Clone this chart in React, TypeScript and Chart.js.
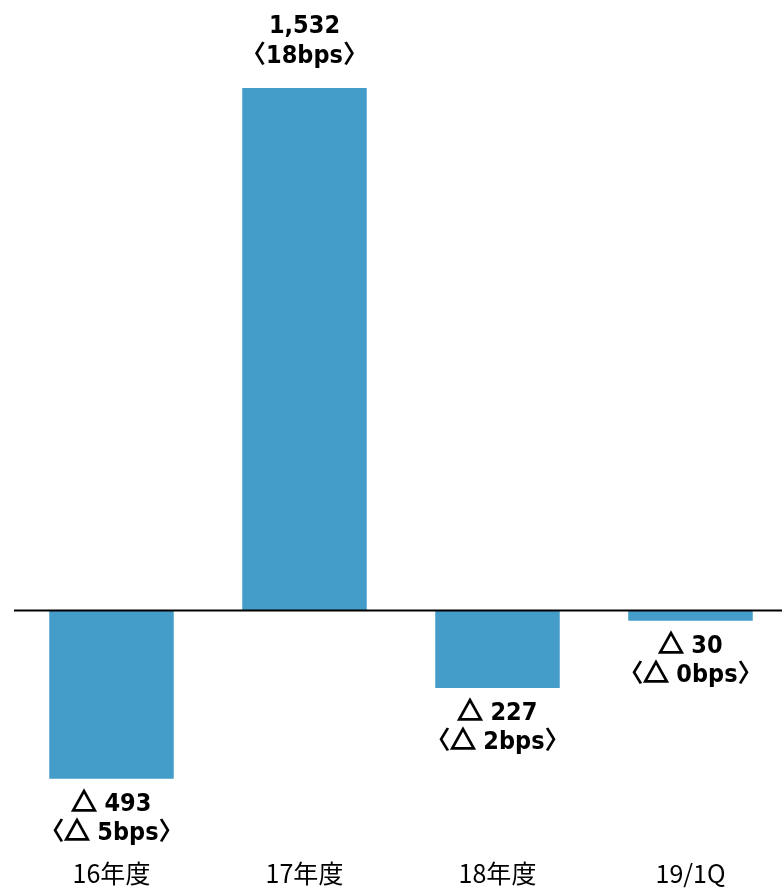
import React, { useEffect, useRef } from "react";
import { Chart, registerables } from "chart.js";

Chart.register(...registerables);

// 与信関係費用（億円）と総貸出に対する比率（bps）
const categories = ["16年度", "17年度", "18年度", "19/1Q"];
const amounts = [-493, 1532, -227, -30];
const bps = [-5, 18, -2, 0];

const BAR_COLOR = "#439DC8";
const TEXT_FONT = "bold 25px 'DejaVu Sans Condensed', 'Noto Sans CJK JP', sans-serif";
const MARK_FONT = "bold 25px 'Noto Sans CJK JP', sans-serif";
const AXIS_FONT_FAMILY = "'Noto Sans CJK JP', 'DejaVu Sans', sans-serif";

const fmt = (n: number) => Math.abs(n).toLocaleString("en-US");

// 0 の基準線を描く
const zeroLinePlugin = {
  id: "zeroLine",
  afterDatasetsDraw(chart: any) {
    const { ctx } = chart;
    const y = chart.scales.y.getPixelForValue(0);
    ctx.save();
    ctx.strokeStyle = "#000";
    ctx.lineWidth = 2;
    ctx.beginPath();
    ctx.moveTo(14, y);
    ctx.lineTo(chart.width, y);
    ctx.stroke();
    ctx.restore();
  },
};

// 「△」と括弧は和文フォント、数字は欧文フォントで描く
function drawMixed(ctx: CanvasRenderingContext2D, text: string, cx: number, cy: number) {
  const parts: { s: string; font: string; mark: boolean }[] = [];
  for (const ch of text) {
    const mark = ch === "△" || ch === "〈" || ch === "〉";
    const font = mark ? MARK_FONT : TEXT_FONT;
    const last = parts[parts.length - 1];
    if (!mark && last && !last.mark) last.s += ch;
    else parts.push({ s: ch, font, mark });
  }
  let total = 0;
  const widths = parts.map((p) => {
    ctx.font = p.font;
    const w = ctx.measureText(p.s).width;
    total += w;
    return w;
  });
  let x = cx - total / 2;
  ctx.textAlign = "left";
  parts.forEach((p, i) => {
    ctx.font = p.font;
    ctx.fillText(p.s, x, cy);
    if (p.s === "△") {
      // 三角記号は線を太くする
      ctx.lineWidth = 1.6;
      ctx.strokeStyle = "#000";
      ctx.strokeText(p.s, x, cy);
    }
    x += widths[i];
  });
}

// 棒の端に金額と bps の二段ラベルを描く
const valueLabelPlugin = {
  id: "valueLabels",
  afterDatasetsDraw(chart: any) {
    const { ctx } = chart;
    const meta = chart.getDatasetMeta(0);
    ctx.save();
    ctx.fillStyle = "#000";
    ctx.textBaseline = "alphabetic";
    meta.data.forEach((bar: any, i: number) => {
      const v = amounts[i];
      const neg = v < 0;
      const pre = neg ? "△ " : "";
      const line1 = pre + fmt(v);
      const line2 = "〈" + pre + Math.abs(bps[i]) + "bps〉";
      const x = bar.x;
      if (neg) {
        drawMixed(ctx, line1, x, bar.y + 32);
        drawMixed(ctx, line2, x, bar.y + 61);
      } else {
        drawMixed(ctx, line1, x, bar.y - 55);
        drawMixed(ctx, line2, x, bar.y - 25);
      }
    });
    ctx.restore();
  },
};

export default function App() {
  const canvasRef = useRef<HTMLCanvasElement | null>(null);

  useEffect(() => {
    if (!canvasRef.current) return;
    const chart = new Chart(canvasRef.current, {
      type: "bar",
      data: {
        labels: categories,
        datasets: [
          {
            data: amounts,
            backgroundColor: BAR_COLOR,
            borderWidth: 0,
            barPercentage: 0.645,
            categoryPercentage: 1,
          },
        ],
      },
      options: {
        responsive: false,
        animation: false,
        devicePixelRatio: 1,
        layout: { padding: { left: 15, right: 13, top: 13.5, bottom: 0 } },
        plugins: {
          legend: { display: false },
          tooltip: { enabled: false },
        },
        scales: {
          x: {
            grid: { display: false, drawTicks: false },
            border: { display: false },
            ticks: {
              color: "#000",
              padding: 12,
              font: { family: AXIS_FONT_FAMILY, size: 25, weight: "normal" },
              maxRotation: 0,
            },
          },
          y: {
            display: false,
            min: -690,
            max: 1750,
          },
        },
      },
      plugins: [zeroLinePlugin, valueLabelPlugin],
    });
    return () => chart.destroy();
  }, []);

  return (
    <div
      style={{
        position: "absolute",
        left: 0,
        top: 0,
        width: 782,
        height: 892,
        overflow: "hidden",
        background: "#fff",
      }}
    >
      <canvas ref={canvasRef} width={800} height={900} style={{ display: "block" }} />
    </div>
  );
}
